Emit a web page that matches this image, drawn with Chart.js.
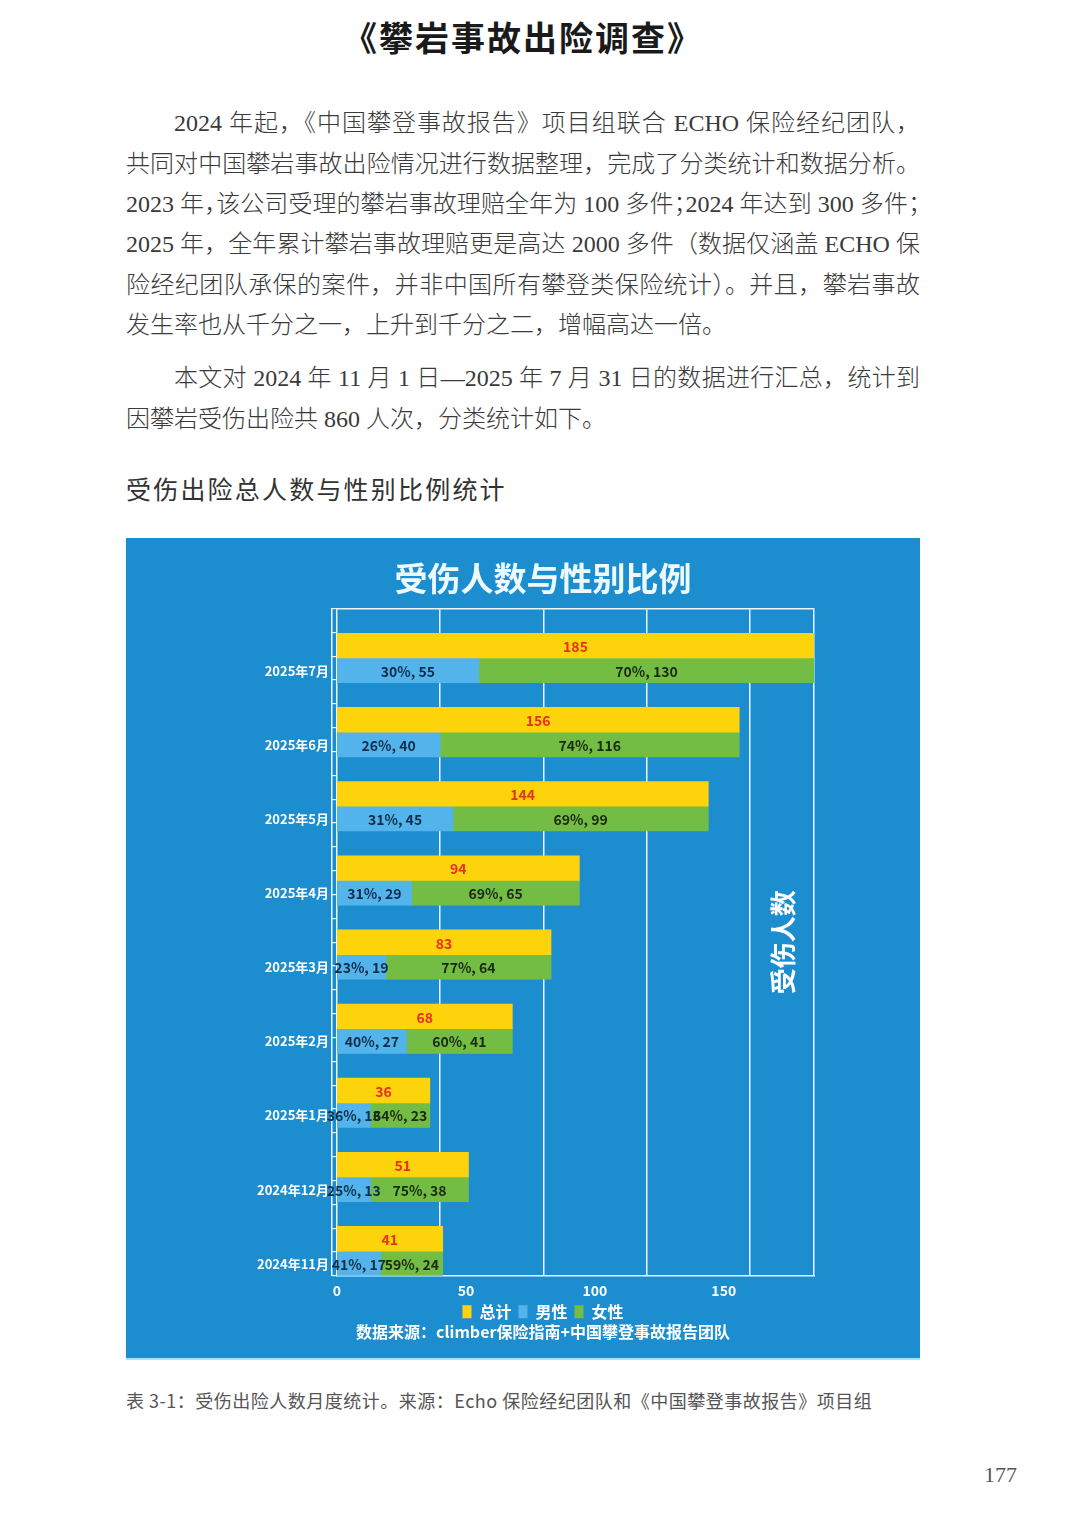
<!DOCTYPE html>
<html>
<head>
<meta charset="utf-8">
<script src="https://cdn.jsdelivr.net/npm/chart.js"></script>
<style>
body{margin:0;width:1080px;height:1525px;background:#fff;position:relative;overflow:hidden;
  font-family:"Liberation Serif","Noto Sans CJK SC",serif;color:#3a3a3a}
.title{position:absolute;left:0;width:1046px;top:12px;text-align:center;font:bold 34px "Noto Sans CJK SC";letter-spacing:2px;color:#1a1a1a}
.line{position:absolute;left:126px;width:794px;font-size:24px;font-weight:300;line-height:40px;text-align:justify;text-align-last:justify}
.line.last{text-align-last:left}
.line.tight{font-feature-settings:"halt"}
.indent{padding-left:48px;width:746px}
.section{position:absolute;left:126px;top:470px;font:25px "Noto Sans CJK SC";letter-spacing:2.2px;color:#333}
#panel{position:absolute;left:126px;top:538px;width:794px;height:820px;background:#1c8ed0;border-bottom:2px solid #a6e3f6}
.caption{position:absolute;left:126px;top:1387px;font:18px "Noto Sans CJK SC";letter-spacing:0.5px;color:#555}
.page{position:absolute;left:984px;top:1462px;font:22px "Liberation Serif";color:#555}
</style>
</head>
<body>
<div class="title">《攀岩事故出险调查》</div>

<div class="line indent" style="top:103px">2024 年起，《中国攀登事故报告》项目组联合 ECHO 保险经纪团队，</div>
<div class="line" style="top:144px">共同对中国攀岩事故出险情况进行数据整理，完成了分类统计和数据分析。</div>
<div class="line tight" style="top:184px">2023 年，该公司受理的攀岩事故理赔全年为 100 多件；2024 年达到 300 多件；</div>
<div class="line" style="top:224px">2025 年，全年累计攀岩事故理赔更是高达 2000 多件（数据仅涵盖 ECHO 保</div>
<div class="line" style="top:265px">险经纪团队承保的案件，并非中国所有攀登类保险统计）。并且，攀岩事故</div>
<div class="line last" style="top:305px">发生率也从千分之一，上升到千分之二，增幅高达一倍。</div>
<div class="line indent" style="top:358px">本文对 2024 年 11 月 1 日—2025 年 7 月 31 日的数据进行汇总，统计到</div>
<div class="line last" style="top:399px">因攀岩受伤出险共 860 人次，分类统计如下。</div>

<div class="section">受伤出险总人数与性别比例统计</div>

<div id="panel"><canvas id="canvas"></canvas></div>

<div class="caption">表 3-1：受伤出险人数月度统计。来源：Echo 保险经纪团队和《中国攀登事故报告》项目组</div>
<div class="page">177</div>

<script>
// months listed top to bottom, as in the picture
const months = ['2025年7月','2025年6月','2025年5月','2025年4月','2025年3月','2025年2月','2025年1月','2024年12月','2024年11月'];
const totals = [185,156,144,94,83,68,36,51,41];
const male = [55,40,45,29,19,27,13,13,17];
const female = [130,116,99,65,64,41,23,38,24];
const malePct = ['30%','26%','31%','31%','23%','40%','36%','25%','41%'];
const femalePct = ['70%','74%','69%','69%','77%','60%','64%','75%','59%'];

const CJK = '"Noto Sans CJK SC","Noto Sans",sans-serif';
Chart.defaults.font.family = CJK;
const lineColor = '#eaf8ff';

const barLabels = {
    id:'barLabels',
    afterDatasetsDraw(chart) {
        let ctx = chart.ctx;
        chart.data.datasets.forEach((ds,i)=>{
            if (!ds.labels) return;
            chart.getDatasetMeta(i).data.forEach((bar,j)=>{
                ctx.save();
                ctx.font = 'bold 14px '+CJK;
                ctx.fillStyle = ds.labelColor;
                ctx.textAlign = 'center';
                ctx.textBaseline = 'middle';
                ctx.fillText(ds.labels[j],(bar.x+bar.base)/2,bar.y+1);
                ctx.restore();
            });
        });
    }
};
const sideTitle = {
    id:'sideTitle',
    afterDatasetsDraw(chart) {
        let {ctx,chartArea,scales} = chart;
        ctx.save();
        ctx.translate(scales.x.getPixelForValue(173),(chartArea.top+chartArea.bottom)/2);
        ctx.rotate(-Math.PI/2);
        ctx.font = 'bold 26px '+CJK;
        ctx.fillStyle = '#ffffff';
        ctx.textAlign = 'center';
        ctx.textBaseline = 'middle';
        ctx.fillText('受伤人数',0,0);
        ctx.restore();
    }
};

let data = {
    labels:months,
    datasets:[
        {label:'',data:[],stack:'gap'},
        {label:'总计',data:totals,stack:'total',backgroundColor:'#fdd40c',
            labels:totals.map(String),labelColor:'#e8301f'},
        {label:'男性',data:male,stack:'gender',backgroundColor:'#52b4ea',
            labels:male.map((v,i)=>malePct[i]+', '+v),labelColor:'#112d4e'},
        {label:'女性',data:female,stack:'gender',backgroundColor:'#74bd45',
            labels:female.map((v,i)=>femalePct[i]+', '+v),labelColor:'#1b2a10'}
    ]
};
data.datasets.forEach(d=>{d.xAxisID='x';d.yAxisID='y';});

const chart = new Chart(document.getElementById('canvas'),{
    type:'bar',
    data:data,
    plugins:[barLabels,sideTitle],
    options:{
        indexAxis:'y',
        responsive:true,
        maintainAspectRatio:false,
        animation:false,
        barPercentage:1,
        categoryPercentage:1,
        layout:{padding:{left:40,right:0,top:0,bottom:0}},
        plugins:{
            title:{display:true,text:'受伤人数与性别比例',color:'#eef9fe',
                font:{size:33,weight:'bold'},padding:{top:21,bottom:10}},
            subtitle:{display:true,position:'bottom',text:'数据来源：climber保险指南+中国攀登事故报告团队',
                color:'#ffffff',font:{size:16,weight:'bold'},padding:{top:-7,bottom:16}},
            legend:{position:'bottom',
                labels:{color:'#ffffff',font:{size:16,weight:'bold'},boxWidth:9,boxHeight:13,padding:7,
                    filter:item=>item.text!==''}},
            tooltip:{enabled:false}
        },
        scales:{
            x:{type:'linear',position:'bottom',stacked:true,min:0,max:185,
                ticks:{stepSize:50,color:'#ffffff',font:{size:14,weight:'bold'},padding:6},
                afterBuildTicks:s=>{s.ticks = s.ticks.filter(t=>t.value%50===0);},
                afterFit:s=>{s.height = 21;},
                grid:{display:false,drawTicks:false},
                border:{display:true,color:lineColor,width:1.5}},
            x2:{type:'linear',axis:'x',position:'top',min:0,max:185,
                ticks:{display:false,stepSize:40},
                grid:{color:lineColor,lineWidth:1.5,drawTicks:false},
                border:{display:true,color:lineColor,width:1.5}},
            y:{type:'category',position:'left',weight:1,
                grid:{display:false,drawTicks:false},
                border:{display:true,color:lineColor,width:1.5},
                ticks:{color:'#ffffff',font:{size:13,weight:'bold'},padding:3,labelOffset:25},
                afterFit:s=>{s.width = 166;}},
            yMarks:{type:'linear',axis:'y',position:'left',min:0,max:27,
                ticks:{display:false,stepSize:1},
                grid:{drawOnChartArea:false,color:lineColor,tickLength:5,lineWidth:1.2},
                border:{display:false},
                afterFit:s=>{s.width = 5;}},
            // empty strip that keeps the plot clear of the right edge
            ySpace:{type:'linear',axis:'y',position:'right',
                ticks:{display:false},grid:{display:false},border:{display:false},
                afterFit:s=>{s.width = 106;}}
        }
    }
});
</script>
</body>
</html>
